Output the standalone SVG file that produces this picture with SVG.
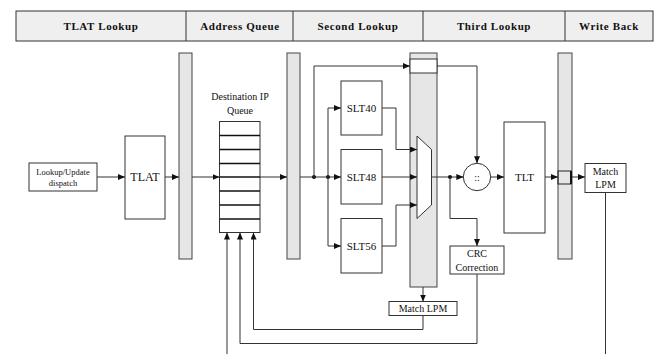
<svg xmlns="http://www.w3.org/2000/svg" width="659" height="354" viewBox="0 0 659 354">
<defs>
<marker id="ah" markerWidth="7" markerHeight="6" refX="7" refY="3" orient="auto" markerUnits="userSpaceOnUse">
<path d="M0,0 L7,3 L0,6 Z" fill="#111"/>
</marker>
<style>
text{font-family:'Liberation Serif','Times New Roman','DejaVu Serif',serif}
.hdr{fill:#efefef;stroke:#333;stroke-width:1}
.ht{font-weight:bold;font-size:11px;letter-spacing:0.6px;fill:#111;text-anchor:middle}
.bar{fill:#e6e6e6;stroke:#444;stroke-width:1}
.box{fill:#fff;stroke:#333;stroke-width:1}
.t{fill:#111;text-anchor:middle}
.c{fill:none;stroke:#333;stroke-width:1}
.a{marker-end:url(#ah)}
.dot{fill:#111}
</style>
</defs>
<rect width="659" height="354" fill="#fff"/>
<g id="header">
<rect class="hdr" x="16" y="11" width="637" height="30"/>
<line x1="186" y1="11" x2="186" y2="41" stroke="#333"/>
<line x1="293" y1="11" x2="293" y2="41" stroke="#333"/>
<line x1="423" y1="11" x2="423" y2="41" stroke="#333"/>
<line x1="565" y1="11" x2="565" y2="41" stroke="#333"/>
<text class="ht" x="101" y="30">TLAT Lookup</text>
<text class="ht" x="240" y="30">Address Queue</text>
<text class="ht" x="358" y="30">Second Lookup</text>
<text class="ht" x="494" y="30">Third Lookup</text>
<text class="ht" x="609" y="30">Write Back</text>
</g>
<g id="bar1"><rect class="bar" x="179" y="53" width="13" height="206"/></g>
<g id="bar2"><rect class="bar" x="287" y="53" width="13" height="206"/></g>
<g id="bar3">
<rect class="bar" x="410" y="53" width="27" height="234"/>
<rect class="box" x="410" y="59" width="27" height="14"/>
</g>
<g id="bar4">
<rect class="bar" x="558" y="53" width="14" height="206"/>
<rect x="558" y="171" width="13" height="13" fill="none" stroke="#222" stroke-width="1"/>
<line x1="571" y1="171" x2="571" y2="184" stroke="#111" stroke-width="2"/>
</g>
<g id="dispatch">
<rect class="box" x="29" y="163" width="68" height="28"/>
<text class="t" x="63" y="175" font-size="8.5">Lookup/Update</text>
<text class="t" x="63" y="186" font-size="8.5">dispatch</text>
</g>
<g id="tlat">
<rect class="box" x="125" y="136" width="40" height="83"/>
<text class="t" x="145" y="181" font-size="12">TLAT</text>
</g>
<g id="queue">
<text class="t" x="240" y="100" font-size="10">Destination IP</text>
<text class="t" x="240" y="114" font-size="10">Queue</text>
<rect class="box" x="219.5" y="121.5" width="40.5" height="111"/>
<g stroke="#111" stroke-width="1.3">
<line x1="219.5" y1="135.5" x2="260" y2="135.5"/>
<line x1="219.5" y1="149.5" x2="260" y2="149.5"/>
<line x1="219.5" y1="163.5" x2="260" y2="163.5"/>
<line x1="219.5" y1="177" x2="260" y2="177"/>
<line x1="219.5" y1="191" x2="260" y2="191"/>
<line x1="219.5" y1="205" x2="260" y2="205"/>
<line x1="219.5" y1="219" x2="260" y2="219"/>
</g>
</g>
<g id="slt40"><rect class="box" x="341" y="81" width="41" height="54"/><text class="t" x="361.5" y="112" font-size="11">SLT40</text></g>
<g id="slt48"><rect class="box" x="341" y="149.5" width="41" height="54.5"/><text class="t" x="361.5" y="181" font-size="11">SLT48</text></g>
<g id="slt56"><rect class="box" x="341" y="218.5" width="41" height="54.5"/><text class="t" x="361.5" y="250" font-size="11">SLT56</text></g>
<g id="mux"><path d="M417,136 L431.5,149.5 L431.5,205 L417,218.5 Z" fill="#fff" stroke="#333"/></g>
<g id="concat"><circle cx="477" cy="177" r="13.7" fill="#fff" stroke="#333"/><text class="t" x="477" y="181" font-size="10">::</text></g>
<g id="tlt"><rect class="box" x="504" y="122" width="41" height="111"/><text class="t" x="524.5" y="181" font-size="11">TLT</text></g>
<g id="matchlpm1"><rect class="box" x="585" y="163.5" width="41" height="29"/><text class="t" x="605.5" y="175" font-size="10">Match</text><text class="t" x="605.5" y="188" font-size="10">LPM</text></g>
<g id="crc"><rect class="box" x="450" y="246" width="54" height="28"/><text class="t" x="477" y="257" font-size="10">CRC</text><text class="t" x="477" y="270.5" font-size="10">Correction</text></g>
<g id="matchlpm2"><rect class="box" x="389" y="301.5" width="68" height="14"/><text class="t" x="423" y="312" font-size="10">Match LPM</text></g>
<g id="connectors">
<line class="c a" x1="97" y1="177" x2="125" y2="177"/>
<line class="c a" x1="165" y1="177" x2="179" y2="177"/>
<line class="c a" x1="192" y1="177" x2="219.5" y2="177"/>
<line class="c a" x1="260" y1="177" x2="287" y2="177"/>
<line class="c a" x1="300" y1="177" x2="341" y2="177"/>
<circle class="dot" cx="314" cy="177" r="2"/>
<circle class="dot" cx="328" cy="177" r="2"/>
<polyline class="c a" points="314,177 314,66 410,66"/>
<polyline class="c a" points="328,177 328,108 341,108"/>
<polyline class="c a" points="328,177 328,246 341,246"/>
<polyline class="c a" points="382,108 396,108 396,149.5 417,149.5"/>
<line class="c a" x1="382" y1="177" x2="417" y2="177"/>
<polyline class="c a" points="382,246 396,246 396,205 417,205"/>
<line class="c a" x1="431.5" y1="177" x2="463.3" y2="177"/>
<circle class="dot" cx="450" cy="177" r="2"/>
<polyline class="c a" points="437,66 477,66 477,163.3"/>
<polyline class="c a" points="450,177 450,218.5 477,218.5 477,246"/>
<line class="c a" x1="490.7" y1="177" x2="504" y2="177"/>
<line class="c a" x1="545" y1="177" x2="558" y2="177"/>
<line class="c a" x1="572" y1="177" x2="585" y2="177"/>
<line class="c" x1="605.5" y1="192.5" x2="605.5" y2="354"/>
<line class="c a" x1="423" y1="287" x2="423" y2="301.5"/>
<polyline class="c a" points="423,315.5 423,329.5 253.5,329.5 253.5,232.5"/>
<polyline class="c a" points="477,274 477,343.5 240,343.5 240,232.5"/>
<line class="c a" x1="227" y1="354" x2="227" y2="232.5"/>
</g>
</svg>
